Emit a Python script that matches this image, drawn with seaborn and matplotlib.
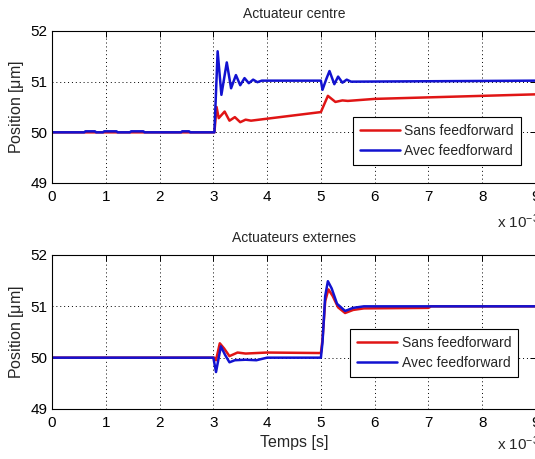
import matplotlib
matplotlib.use("Agg")
import matplotlib.pyplot as plt
import seaborn as sns
import pandas as pd

# Time in ms (axis scaled by 1e-3), position in µm
t_centre_sans = [0.0, 3.02, 3.06, 3.10, 3.21, 3.30, 3.40, 3.50, 3.60, 3.70, 5.00, 5.13, 5.27,
                 5.40, 5.50, 6.00, 7.00, 8.00, 9.00]
p_centre_sans = [50.0, 50.0, 50.5, 50.28, 50.41, 50.23, 50.30, 50.20, 50.25, 50.23, 50.40, 50.72,
                 50.60, 50.63, 50.62, 50.66, 50.69, 50.72, 50.75]

t_centre_avec = [0.0, 0.60, 0.62, 0.80, 0.82, 0.95, 0.97, 1.20, 1.22, 1.45, 1.47, 1.70, 1.72,
                 2.00, 2.40, 2.42, 2.55, 2.57, 3.02, 3.08, 3.15, 3.25, 3.33, 3.42, 3.50, 3.58,
                 3.66, 3.74, 3.82, 3.90, 5.00, 5.03, 5.10, 5.16, 5.25, 5.32, 5.40, 5.48, 5.56,
                 9.00]
p_centre_avec = [50.0, 50.0, 50.02, 50.02, 50.0, 50.0, 50.02, 50.02, 50.0, 50.0, 50.02, 50.02,
                 50.0, 50.0, 50.0, 50.02, 50.02, 50.0, 50.0, 51.6, 50.74, 51.38, 50.87, 51.13,
                 50.93, 51.07, 50.97, 51.04, 50.99, 51.02, 51.02, 50.84, 51.05, 51.21, 50.95,
                 51.10, 50.98, 51.04, 51.00, 51.02]

t_ext_sans = [0.0, 3.02, 3.05, 3.12, 3.20, 3.30, 3.45, 3.60, 4.00, 5.00, 5.03, 5.08, 5.14, 5.22,
              5.32, 5.45, 5.60, 5.80, 7.00, 7.05, 9.00]
p_ext_sans = [50.0, 50.0, 49.95, 50.28, 50.18, 50.03, 50.10, 50.08, 50.10, 50.09, 50.35, 51.10,
              51.33, 51.20, 50.98, 50.87, 50.93, 50.96, 50.97, 51.0, 51.0]

t_ext_avec = [0.0, 3.00, 3.05, 3.14, 3.22, 3.30, 3.40, 3.60, 3.80, 4.00, 5.00, 5.03, 5.08, 5.13,
              5.20, 5.30, 5.45, 5.60, 5.80, 9.00]
p_ext_avec = [50.0, 50.0, 49.72, 50.22, 50.05, 49.91, 49.95, 49.96, 49.95, 50.0, 50.0, 50.30,
              51.20, 51.49, 51.35, 51.05, 50.91, 50.97, 51.0, 51.0]

series_labels = ["Sans feedforward", "Avec feedforward"]
titles = ["Actuateur centre", "Actuateurs externes"]
x_ticks = list(range(0, 10))
y_ticks = [49, 50, 51, 52]

RED = "#e01515"
BLUE = "#1212d0"

sns.set_style("white")
plt.rcParams["font.family"] = ["Liberation Sans", "DejaVu Sans"]
plt.rcParams["mathtext.fontset"] = "custom"
plt.rcParams["mathtext.rm"] = "Liberation Sans"
plt.rcParams["mathtext.it"] = "Liberation Sans"

fig = plt.figure(figsize=(5.35, 4.59), dpi=100)
fig.patch.set_facecolor("white")

W = 535.0
H = 459.0
ax_top = fig.add_axes([52 / W, 1 - 183 / H, 484 / W, 152 / H])
ax_bot = fig.add_axes([52 / W, 1 - 409 / H, 484 / W, 154 / H])

panels = [
    (ax_top, t_centre_sans, p_centre_sans, t_centre_avec, p_centre_avec, titles[0], (0.622, 0.434)),
    (ax_bot, t_ext_sans, p_ext_sans, t_ext_avec, p_ext_avec, titles[1], (0.616, 0.519)),
]

for ax, ts, ps, ta, pa, title, leg_pos in panels:
    df_s = pd.DataFrame({"t": ts, "p": ps})
    df_a = pd.DataFrame({"t": ta, "p": pa})
    sns.lineplot(data=df_s, x="t", y="p", ax=ax, color=RED, lw=1.8, label=series_labels[0],
                 estimator=None, sort=False)
    sns.lineplot(data=df_a, x="t", y="p", ax=ax, color=BLUE, lw=1.8, label=series_labels[1],
                 estimator=None, sort=False)
    ax.set_xlim(0, 9)
    ax.set_ylim(49, 52)
    ax.set_xticks(x_ticks)
    ax.set_yticks(y_ticks)
    ax.grid(True, color="black", linestyle=(0, (1, 3)), linewidth=0.7)
    ax.tick_params(direction="in", length=4, width=0.7, top=True, right=True,
                   labelsize=11, colors="black")
    ax.tick_params(axis="x", pad=5)
    ax.tick_params(axis="y", pad=3.5)
    for sp in ax.spines.values():
        sp.set_visible(True)
        sp.set_color("black")
        sp.set_linewidth(0.8)
    ax.set_title(title, fontsize=10, pad=9.5)
    ax.set_ylabel("Position [$\\mu$m]", fontsize=11.5, labelpad=3)
    ax.set_xlabel("")
    leg = ax.legend(loc="upper left", bbox_to_anchor=leg_pos, fontsize=10, frameon=True,
                    fancybox=False, edgecolor="black", framealpha=1, handlelength=2.9,
                    handletextpad=0.3, borderpad=0.5, labelspacing=0.45, borderaxespad=0)
    leg.get_frame().set_linewidth(0.8)

ax_bot.set_xlabel("Temps [s]", fontsize=11.5, labelpad=4)

fig.text(497 / W, 1 - 228 / H, "x 10$^{-3}$", fontsize=11, ha="left", va="baseline")
fig.text(497 / W, 1 - 450 / H, "x 10$^{-3}$", fontsize=11, ha="left", va="baseline")

fig.savefig("out.png", dpi=100, facecolor="white")
